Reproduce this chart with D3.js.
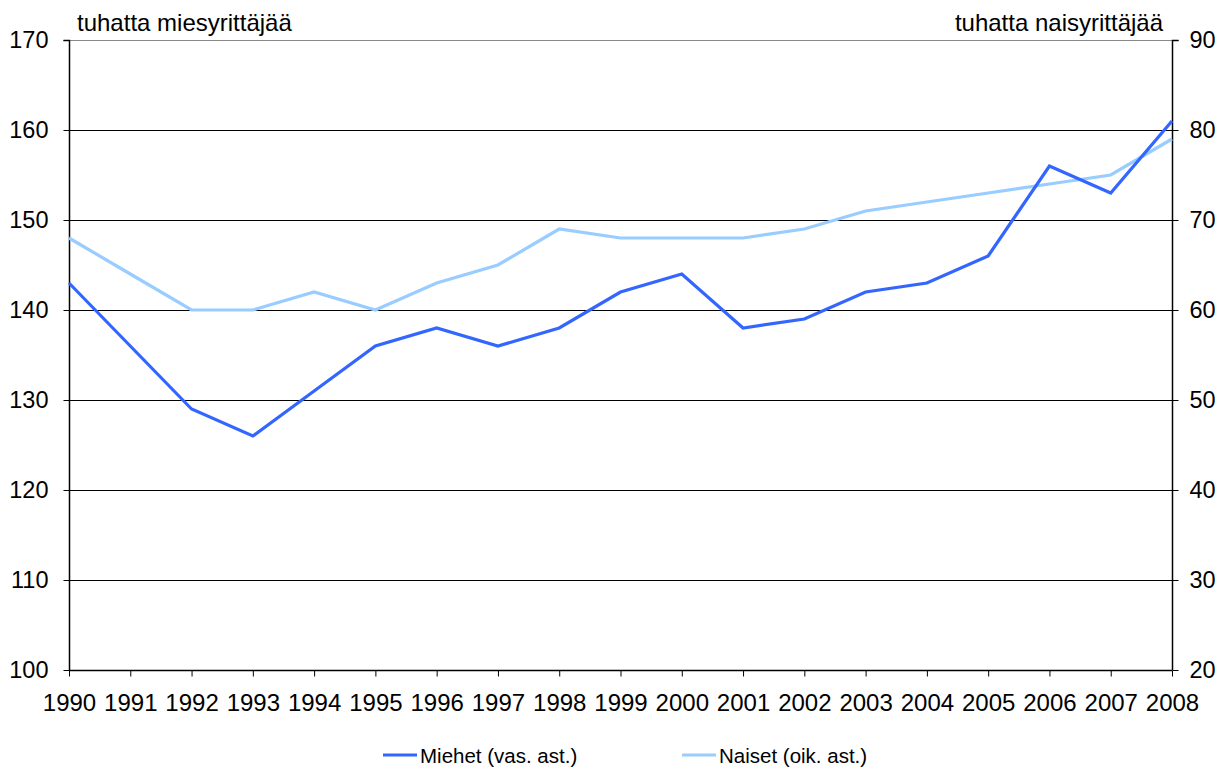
<!DOCTYPE html>
<html>
<head>
<meta charset="utf-8">
<script src="https://cdn.jsdelivr.net/npm/d3@7"></script>
<style>
  body { margin: 0; background: #fff; }
  svg { font-family: "Liberation Sans", Arial, sans-serif; }
</style>
</head>
<body>
<div id="chart"></div>
<script>
(function () {
    // Data
    const years = [1990, 1991, 1992, 1993, 1994, 1995, 1996, 1997, 1998, 1999,
                   2000, 2001, 2002, 2003, 2004, 2005, 2006, 2007, 2008];
    const miehet = [143, 136, 129, 126, 131, 136, 138, 136, 138, 142,
                    144, 138, 139, 142, 143, 146, 156, 153, 161];
    const naiset = [68, 64, 60, 60, 62, 60, 63, 65, 69, 68,
                    68, 68, 69, 71, 72, 73, 74, 75, 79];
    const leftTicks = [100, 110, 120, 130, 140, 150, 160, 170];
    const rightTicks = [20, 30, 40, 50, 60, 70, 80, 90];

    const W = 1227, H = 769;
    const margin = { top: 40, left: 69 };
    const width = 1172 - margin.left;
    const height = 670 - margin.top;

    const svg = d3.select("#chart")
      .append("svg")
        .attr("width", W)
        .attr("height", H)
      .append("g")
        .attr("transform", `translate(${margin.left},${margin.top})`);

    const x = d3.scalePoint()
      .domain(years)
      .range([0, width]);

    const yL = d3.scaleLinear().domain([100, 170]).range([height, 0]);
    const yR = d3.scaleLinear().domain([20, 90]).range([height, 0]);

    // Gridlines
    svg.append("g")
      .selectAll("line")
      .data(leftTicks.slice(1))
      .enter()
      .append("line")
        .attr("x1", 0)
        .attr("x2", width)
        .attr("y1", d => Math.round(yL(d)) + 0.5)
        .attr("y2", d => Math.round(yL(d)) + 0.5)
        .attr("stroke", d => d === 170 ? "#888" : "#000")
        .attr("stroke-width", 1);

    // Left axis
    const left = svg.append("g")
      .attr("transform", "translate(0.5,0)")
      .call(d3.axisLeft(yL).tickValues(leftTicks).tickSize(6).tickPadding(15));
    // Right axis
    const right = svg.append("g")
      .attr("transform", `translate(${width + 0.5},0)`)
      .call(d3.axisRight(yR).tickValues(rightTicks).tickSize(6).tickPadding(11));
    // Bottom axis
    const bottom = svg.append("g")
      .attr("transform", `translate(0,${height + 0.5})`)
      .call(d3.axisBottom(x).tickSize(6).tickPadding(17).tickFormat(d3.format("d")));

    [left, right, bottom].forEach(g => {
        g.select(".domain").attr("stroke", "#000").attr("stroke-width", 1.5);
        g.selectAll(".tick line").attr("stroke", "#000");
        g.selectAll(".tick text")
          .style("font-size", "23.5px")
          .style("font-family", "Liberation Sans, Arial, sans-serif")
          .attr("fill", "#000");
    });
    bottom.selectAll(".tick text").style("font-size", "24px");
    bottom.select(".domain").attr("d", `M0,0H${width}`);
    left.select(".domain").attr("d", `M-6,0.5H0V${height}`);
    right.select(".domain").attr("d", `M6,0.5H0V${height}`);

    // Lines
    const lineL = d3.line()
      .x((d, i) => x(years[i]))
      .y(d => yL(d));
    const lineR = d3.line()
      .x((d, i) => x(years[i]))
      .y(d => yR(d));

    svg.append("path")
      .datum(naiset)
      .attr("fill", "none")
      .attr("stroke", "#99CCFF")
      .attr("stroke-width", 3.2)
      .attr("d", lineR);

    svg.append("path")
      .datum(miehet)
      .attr("fill", "none")
      .attr("stroke", "#3366FF")
      .attr("stroke-width", 3.2)
      .attr("d", lineL);

    // Axis titles
    svg.append("text")
      .attr("x", 8)
      .attr("y", -9)
      .style("font-size", "24px")
      .text("tuhatta miesyrittäjää");

    svg.append("text")
      .attr("x", width - 9)
      .attr("y", -9)
      .attr("text-anchor", "end")
      .style("font-size", "24px")
      .text("tuhatta naisyrittäjää");

    // Legend
    const legend = svg.append("g")
      .attr("transform", `translate(0, ${height + 85})`)
      .style("font-size", "20.5px");

    const items = [
        { label: "Miehet (vas. ast.)", color: "#3366FF", x: 314 },
        { label: "Naiset (oik. ast.)", color: "#99CCFF", x: 613 }
    ];
    items.forEach(it => {
        legend.append("line")
          .attr("x1", it.x)
          .attr("x2", it.x + 34)
          .attr("y1", 0)
          .attr("y2", 0)
          .attr("stroke", it.color)
          .attr("stroke-width", 3.2);
        legend.append("text")
          .attr("x", it.x + 37)
          .attr("y", 8)
          .text(it.label);
    });
})();
</script>
</body>
</html>
